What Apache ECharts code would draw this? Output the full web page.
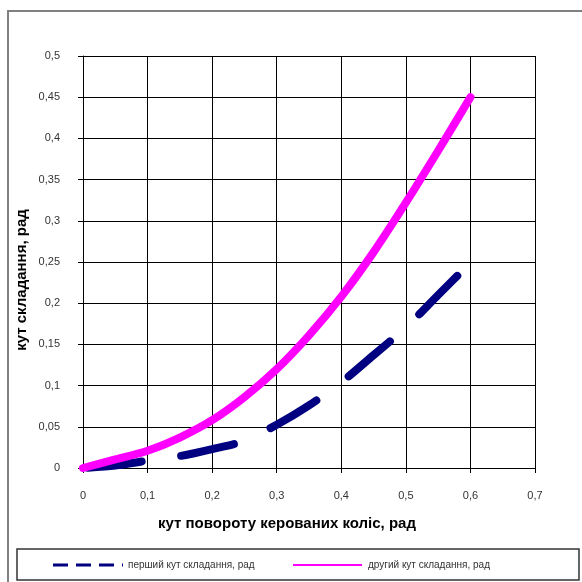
<!DOCTYPE html>
<html><head><meta charset="utf-8">
<script src="https://cdn.jsdelivr.net/npm/echarts@6/dist/echarts.min.js"></script>
<style>html,body{margin:0;padding:0;background:#fff}#c{width:582px;height:582px}</style>
</head><body><div id="c"></div>
<script>
const xValues = [0, 0.05, 0.1, 0.15, 0.2, 0.25, 0.3, 0.35, 0.4, 0.45, 0.5, 0.55, 0.6];
const firstAngle = [0, 0.003, 0.009, 0.0145, 0.023, 0.033, 0.0525, 0.076, 0.104, 0.137, 0.1705, 0.21, 0.249];
const secondAngle = [0, 0.0105, 0.021, 0.037, 0.058, 0.086, 0.120, 0.161, 0.208, 0.262, 0.322, 0.385, 0.45];
const xTickLabels = ['0', '0,1', '0,2', '0,3', '0,4', '0,5', '0,6', '0,7'];
const yTickLabels = ['0', '0,05', '0,1', '0,15', '0,2', '0,25', '0,3', '0,35', '0,4', '0,45', '0,5'];
const seriesNames = ['перший кут складання, рад', 'другий кут складання, рад'];
const xAxisName = 'кут повороту керованих коліс, рад';
const yAxisName = 'кут складання, рад';

const FONT = '"Liberation Sans", Arial, sans-serif';
const chart = echarts.init(document.getElementById('c'), null, {renderer: 'canvas'});
const pairs = arr => xValues.map((x, i) => [x, arr[i]]);

chart.setOption({
  animation: false,
  backgroundColor: '#fff',
  grid: {left: 83, top: 56, width: 452, height: 412, containLabel: false},
  xAxis: {
    type: 'value', min: 0, max: 0.7, interval: 0.1,
    axisLine: {show: true, lineStyle: {color: '#000', width: 1}},
    axisTick: {show: true, inside: false, length: 5, lineStyle: {color: '#000'}},
    splitLine: {show: true, lineStyle: {color: '#000', width: 1}},
    axisLabel: {margin: 22, color: '#333', fontSize: 11, fontFamily: FONT,
      formatter: v => xTickLabels[Math.round(v / 0.1)]}
  },
  yAxis: {
    type: 'value', min: 0, max: 0.5, interval: 0.05,
    axisLine: {show: true, lineStyle: {color: '#000', width: 1}},
    axisTick: {show: true, inside: false, length: 5, lineStyle: {color: '#000'}},
    splitLine: {show: true, lineStyle: {color: '#000', width: 1}},
    axisLabel: {margin: 23, color: '#333', fontSize: 11, fontFamily: FONT,
      formatter: v => yTickLabels[Math.round(v / 0.05)]}
  },
  series: [
    {name: seriesNames[0], type: 'line', data: pairs(firstAngle), smooth: 0.3, showSymbol: false, symbol: 'none',
      lineStyle: {color: '#000080', width: 8, type: [54, 40], dashOffset: -5, cap: 'round', join: 'round'}, z: 3},
    {name: seriesNames[1], type: 'line', data: pairs(secondAngle), smooth: 0.3, showSymbol: false, symbol: 'none',
      lineStyle: {color: '#FF00FF', width: 8, cap: 'round', join: 'round'}, z: 4}
  ],
  graphic: [
    {type: 'polyline', shape: {points: [[8, 582], [8, 11], [582, 11]]}, style: {stroke: '#808080', lineWidth: 2, fill: null}},
    {type: 'rect', shape: {x: 17, y: 549, width: 562, height: 31}, style: {stroke: '#333', lineWidth: 1.5, fill: '#fff'}},
    {type: 'line', shape: {x1: 53, y1: 565, x2: 123, y2: 565}, style: {stroke: '#000080', lineWidth: 3, lineDash: [15, 8]}},
    {type: 'text', x: 128, y: 565, style: {text: seriesNames[0], font: '10px ' + FONT, fill: '#333', verticalAlign: 'middle'}},
    {type: 'line', shape: {x1: 293, y1: 565, x2: 362, y2: 565}, style: {stroke: '#FF00FF', lineWidth: 2}},
    {type: 'text', x: 368, y: 565, style: {text: seriesNames[1], font: '10px ' + FONT, fill: '#333', verticalAlign: 'middle'}},
    {type: 'text', x: 287, y: 524, style: {text: xAxisName, font: 'bold 15px ' + FONT, fill: '#000', align: 'center', verticalAlign: 'middle'}},
    {type: 'text', x: 22, y: 280, rotation: Math.PI / 2, style: {text: yAxisName, font: 'bold 15px ' + FONT, fill: '#000', align: 'center', verticalAlign: 'middle'}}
  ]
});
</script></body></html>
